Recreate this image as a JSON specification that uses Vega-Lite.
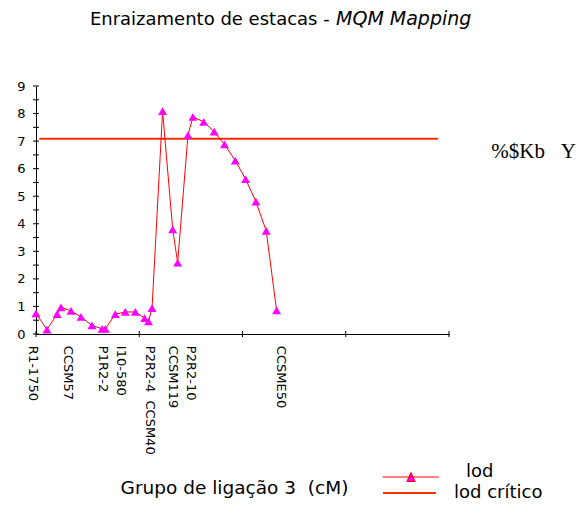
{
  "$schema": "https://vega.github.io/schema/vega-lite/v6.json",
  "width": 413,
  "height": 248,
  "autosize": "none",
  "padding": {"left": 36, "top": 86, "right": 134, "bottom": 172},
  "background": "white",
  "config": {"view": {"stroke": null}, "font": "DejaVu Sans"},
  "resolve": {"axis": {"x": "independent", "y": "independent"}},
  "data": {
    "values": [
      {"cM": 0, "lod": 0.75},
      {"cM": 5.3, "lod": 0.16},
      {"cM": 10.2, "lod": 0.72},
      {"cM": 12.1, "lod": 0.97},
      {"cM": 17.0, "lod": 0.84},
      {"cM": 21.8, "lod": 0.62},
      {"cM": 27.1, "lod": 0.31},
      {"cM": 32.0, "lod": 0.19},
      {"cM": 33.6, "lod": 0.19},
      {"cM": 38.4, "lod": 0.72},
      {"cM": 43.2, "lod": 0.80},
      {"cM": 48.1, "lod": 0.80},
      {"cM": 52.6, "lod": 0.58},
      {"cM": 54.5, "lod": 0.46},
      {"cM": 56.2, "lod": 0.94},
      {"cM": 61.3, "lod": 8.09},
      {"cM": 66.2, "lod": 3.80},
      {"cM": 68.6, "lod": 2.59},
      {"cM": 73.6, "lod": 7.22},
      {"cM": 76.0, "lod": 7.88},
      {"cM": 81.2, "lod": 7.70},
      {"cM": 86.3, "lod": 7.34},
      {"cM": 91.3, "lod": 6.88},
      {"cM": 96.5, "lod": 6.29},
      {"cM": 101.5, "lod": 5.62},
      {"cM": 106.5, "lod": 4.80},
      {"cM": 111.5, "lod": 3.74},
      {"cM": 116.5, "lod": 0.86}
    ]
  },
  "layer": [
    {
      "data": {"values": [{}]},
      "mark": {"type": "rule", "strokeWidth": 2},
      "encoding": {
        "x": {
          "datum": 1.6,
          "type": "quantitative",
          "scale": {"domain": [0, 200], "nice": false, "zero": false},
          "axis": {
            "orient": "bottom",
            "values": [0, 50, 100, 150, 200],
            "labels": false,
            "ticks": false,
            "tickSize": 0,
            "domainColor": "#000000",
            "grid": false,
            "title": "Grupo de ligação 3\u00a0 (cM)",
            "titleFont": "DejaVu Sans",
            "titleFontSize": 18.5,
            "titleFontWeight": "normal",
            "titleColor": "#000000",
            "titleX": 198,
            "titleY": 159,
            "titleAlign": "center",
            "titleBaseline": "alphabetic"
          }
        },
        "x2": {"datum": 194.7},
        "y": {
          "datum": 7.09,
          "type": "quantitative",
          "scale": {"domain": [0, 9], "nice": false},
          "axis": {
            "orient": "left",
            "values": [0, 1, 2, 3, 4, 5, 6, 7, 8, 9],
            "labelOverlap": false,
            "ticks": false,
            "tickSize": 0,
            "domainColor": "#000000",
            "labelColor": "#000000",
            "labelFont": "DejaVu Sans",
            "labelFontSize": 13,
            "labelPadding": 11,
            "grid": false,
            "title": null
          }
        },
        "color": {
          "datum": "lod crítico",
          "scale": {"domain": ["lod", "lod crítico"], "range": ["#ff0000", "#ff3000"]},
          "legend": {
            "orient": "none",
            "legendX": 367,
            "legendY": 382,
            "title": null,
            "padding": 0,
            "labelFont": "DejaVu Sans",
            "labelFontSize": 18,
            "labelColor": "#000000",
            "labelOffset": 33,
            "symbolSize": 100,
            "rowPadding": -2,
            "encode": {
              "symbols": {
                "update": {
                  "shape": {"signal": "datum.value === 'lod' ? 'M-5.86,0H5.34M-1.03,0.9L-0.2,-0.9L0.63,0.9Z' : 'M-5.8,0H4.8'"},
                  "fill": {"signal": "datum.value === 'lod' ? '#ff00ff' : 'transparent'"},
                  "stroke": {"signal": "datum.value === 'lod' ? '#ff0000' : '#ff3000'"},
                  "strokeWidth": {"signal": "datum.value === 'lod' ? 1 : 2"},
                  "opacity": {"value": 1}
                }
              },
              "labels": {
                "update": {
                  "dx": {"signal": "datum.value === 'lod' ? 12 : 0"},
                  "dy": {"signal": "datum.value === 'lod' ? -5 : 0"}
                }
              }
            }
          }
        }
      }
    },
    {
      "mark": {"type": "line", "strokeWidth": 1},
      "encoding": {
        "x": {"field": "cM", "type": "quantitative", "axis": null},
        "y": {"field": "lod", "type": "quantitative", "axis": null},
        "color": {"datum": "lod"}
      }
    },
    {
      "mark": {"type": "point", "shape": "triangle-up", "filled": true, "fill": "#ff00ff", "size": 80, "opacity": 1, "strokeWidth": 0},
      "encoding": {
        "x": {"field": "cM", "type": "quantitative", "axis": null},
        "y": {"field": "lod", "type": "quantitative", "axis": null}
      }
    },
    {
      "data": {
        "values": [
          {"v": 0}, {"v": 0.5}, {"v": 1}, {"v": 1.5}, {"v": 2}, {"v": 2.5}, {"v": 3}, {"v": 3.5}, {"v": 4}, {"v": 4.5},
          {"v": 5}, {"v": 5.5}, {"v": 6}, {"v": 6.5}, {"v": 7}, {"v": 7.5}, {"v": 8}, {"v": 8.5}, {"v": 9}
        ]
      },
      "mark": {"type": "tick", "orient": "horizontal", "size": 6, "thickness": 1, "color": "#000000", "opacity": 1},
      "encoding": {
        "x": {"datum": 0, "type": "quantitative", "axis": null},
        "y": {"field": "v", "type": "quantitative", "axis": null}
      }
    },
    {
      "data": {"values": [{"v": 0}, {"v": 50}, {"v": 100}, {"v": 150}, {"v": 200}]},
      "mark": {"type": "tick", "orient": "vertical", "size": 6, "thickness": 1, "color": "#000000", "opacity": 1},
      "encoding": {
        "x": {"field": "v", "type": "quantitative", "axis": null},
        "y": {"datum": 0, "type": "quantitative", "axis": null}
      }
    },
    {
      "data": {
        "values": [
          {"marker": "R1-1750", "pos": -1.3},
          {"marker": "CCSM57", "pos": 15.6},
          {"marker": "P1R2-2", "pos": 32.6},
          {"marker": "I10-580", "pos": 41.0},
          {"marker": "P2R2-4\u00a0\u00a0CCSM40", "pos": 55.2},
          {"marker": "CCSM119", "pos": 66.5},
          {"marker": "P2R2-10", "pos": 74.9},
          {"marker": "CCSME50", "pos": 118.5}
        ]
      },
      "mark": {"type": "text", "angle": 90, "align": "left", "baseline": "middle", "font": "DejaVu Sans", "fontSize": 13, "color": "#000000"},
      "encoding": {
        "x": {"field": "pos", "type": "quantitative", "axis": null},
        "y": {"datum": -0.43, "type": "quantitative", "axis": null},
        "text": {"field": "marker"}
      }
    },
    {
      "data": {"values": [{"t": "Enraizamento de estacas -"}]},
      "mark": {"type": "text", "align": "left", "baseline": "alphabetic", "font": "DejaVu Sans", "fontSize": 18, "color": "#000000"},
      "encoding": {
        "x": {"datum": 26.1, "type": "quantitative", "axis": null},
        "y": {"datum": 11.21, "type": "quantitative", "axis": null},
        "text": {"field": "t"}
      }
    },
    {
      "data": {"values": [{"t": "MQM Mapping"}]},
      "mark": {"type": "text", "align": "left", "baseline": "alphabetic", "font": "DejaVu Sans", "fontSize": 19, "fontStyle": "italic", "color": "#000000"},
      "encoding": {
        "x": {"datum": 145.3, "type": "quantitative", "axis": null},
        "y": {"datum": 11.21, "type": "quantitative", "axis": null},
        "text": {"field": "t"}
      }
    },
    {
      "data": {"values": [{"t": "%$Kb\u00a0\u00a0\u00a0Y"}]},
      "mark": {"type": "text", "align": "left", "baseline": "middle", "font": "Liberation Serif", "fontSize": 21, "color": "#000000"},
      "encoding": {
        "x": {"datum": 220.5, "type": "quantitative", "axis": null},
        "y": {"datum": 6.6, "type": "quantitative", "axis": null},
        "text": {"field": "t"}
      }
    }
  ]
}
